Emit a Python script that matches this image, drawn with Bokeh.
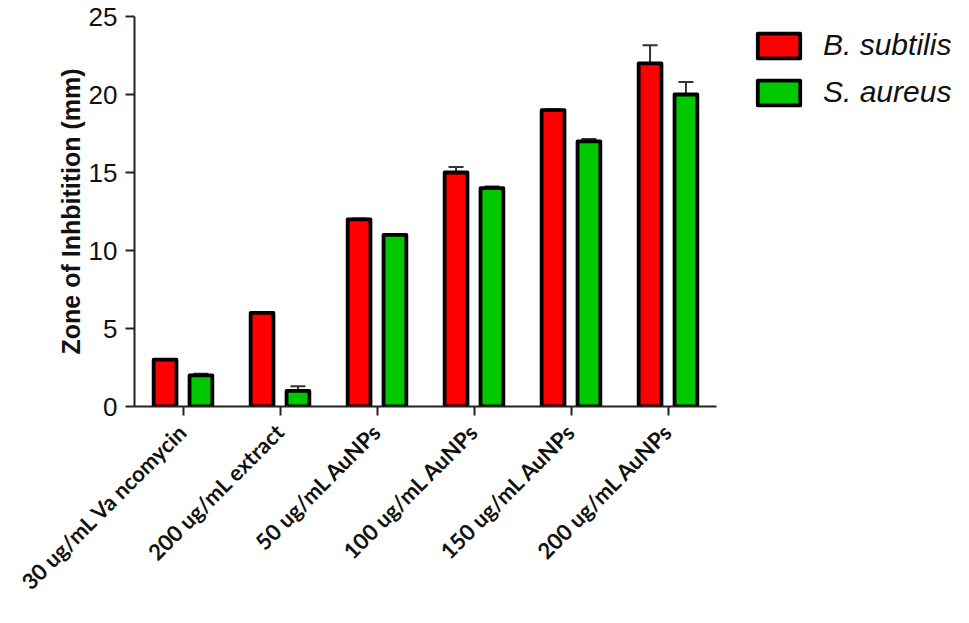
import math
from bokeh.plotting import figure
from bokeh.layouts import row
from bokeh.models import (ColumnDataSource, FactorRange, Range1d, Legend, LegendItem,
                          SingleIntervalTicker)
from bokeh.transform import dodge
from bokeh.embed import file_html
from bokeh.resources import INLINE

cats = ["30 ug/mL Va ncomycin", "200 ug/mL extract", "50 ug/mL AuNPs",
        "100 ug/mL AuNPs", "150 ug/mL AuNPs", "200 ug/mL AuNPs"]
b_subtilis = [3, 6, 12, 15, 19, 22]
b_subtilis_err = [0.05, 0.05, 0.05, 0.35, 0.05, 1.15]
s_aureus = [2, 1, 11, 14, 17, 20]
s_aureus_err = [0.1, 0.3, 0.05, 0.1, 0.15, 0.8]
series = ["B. subtilis", "S. aureus"]
colors = ["#ff0000", "#00c800"]

src = ColumnDataSource(dict(
    cat=cats,
    bs=b_subtilis,
    bs_hi=[v + e for v, e in zip(b_subtilis, b_subtilis_err)],
    sa=s_aureus,
    sa_hi=[v + e for v, e in zip(s_aureus, s_aureus_err)],
))

p = figure(x_range=FactorRange(*cats, range_padding=0), y_range=Range1d(0, 25),
           width=720, height=607, output_backend="svg",
           toolbar_location=None, tools="",
           min_border_left=134, min_border_right=4,
           min_border_top=16, min_border_bottom=201)
p.outline_line_color = None
p.xgrid.grid_line_color = None
p.ygrid.grid_line_color = None

off = 0.185
xb = dodge("cat", -off, range=p.x_range)
xs = dodge("cat", off, range=p.x_range)

# error bars (upper only)
p.segment(x0=xb, y0="bs", x1=xb, y1="bs_hi", source=src, line_color="#333333", line_width=2)
p.segment(x0=xs, y0="sa", x1=xs, y1="sa_hi", source=src, line_color="#333333", line_width=2)
p.scatter(x=xb, y="bs_hi", source=src, marker="dash", size=15, line_color="#333333", line_width=2)
p.scatter(x=xs, y="sa_hi", source=src, marker="dash", size=15, line_color="#333333", line_width=2)

bar_style = dict(width=0.235, source=src, line_color="black", line_width=3.8, line_join="round")
p.vbar(x=xb, top="bs", fill_color=colors[0], **bar_style)
p.vbar(x=xs, top="sa", fill_color=colors[1], **bar_style)

for ax in (p.xaxis[0], p.yaxis[0]):
    ax.axis_line_width = 2
    ax.axis_line_color = "#222222"
    ax.major_tick_line_width = 2
    ax.major_tick_line_color = "#222222"
    ax.major_tick_in = 0
    ax.major_tick_out = 9
    ax.minor_tick_line_color = None

p.yaxis.ticker = SingleIntervalTicker(interval=5)
p.yaxis.major_label_text_font = "Liberation Sans"
p.yaxis.major_label_text_font_size = "26px"
p.yaxis.major_label_text_color = "#111111"
p.yaxis.major_label_standoff = 8
p.yaxis.axis_label = "Zone of Inhbitition (mm)"
p.yaxis.axis_label_text_font = "Liberation Sans"
p.yaxis.axis_label_text_font_style = "bold"
p.yaxis.axis_label_text_font_size = "25px"
p.yaxis.axis_label_text_color = "#111111"
p.yaxis.axis_label_standoff = 1

p.xaxis.major_label_orientation = math.pi / 4
p.xaxis.major_label_text_font = "Lato"
p.xaxis.major_label_text_font_style = "bold"
p.xaxis.major_label_text_font_size = "22px"
p.xaxis.major_label_text_color = "#111111"
p.xaxis.major_label_standoff = 12

# legend lives in a small side figure so it is not clipped by the plot frame
pl = figure(width=233, height=607, output_backend="svg", toolbar_location=None, tools="",
            x_range=Range1d(0, 1), y_range=Range1d(0, 1),
            min_border_left=20, min_border_right=0, min_border_top=16, min_border_bottom=0)
pl.axis.visible = False
pl.grid.grid_line_color = None
pl.outline_line_color = None
items = []
for name, c in zip(series, colors):
    r = pl.vbar(x=[0], top=[0], width=0.1, fill_color=c, line_color="black",
                line_width=3.8, line_join="round", visible=False)
    items.append(LegendItem(label=name, renderers=[r]))

legend = Legend(items=items, location="top_left", padding=0, margin=12, spacing=13,
                glyph_width=53, glyph_height=31, label_standoff=18,
                border_line_color=None, background_fill_alpha=0,
                inactive_fill_alpha=0)
legend.label_text_font = "Liberation Sans"
legend.label_text_font_style = "italic"
legend.label_text_font_size = "30px"
legend.label_text_color = "#111111"
pl.add_layout(legend)

layout = row(p, pl)
open("out.html", "w").write(file_html(layout, INLINE))
